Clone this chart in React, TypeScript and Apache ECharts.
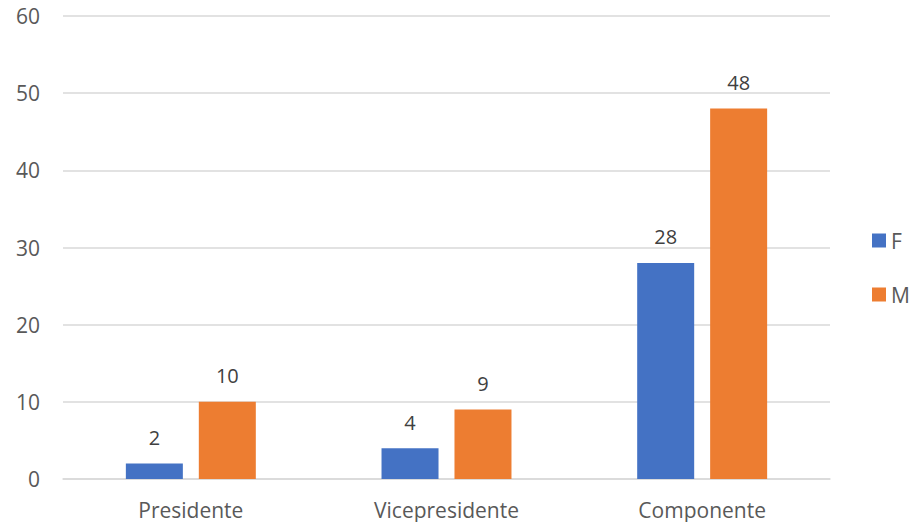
import React, { useEffect, useRef } from "react";
import * as echarts from "echarts";

const categories = ["Presidente", "Vicepresidente", "Componente"];
const seriesF = [2, 4, 28];
const seriesM = [10, 9, 48];
const yTicks = { min: 0, max: 60, interval: 10 };

export default function App() {
  const ref = useRef<HTMLDivElement>(null);
  useEffect(() => {
    if (!ref.current) return;
    const chart = echarts.init(ref.current, null, { renderer: "svg" });
    const font = "Open Sans, Liberation Sans, sans-serif";
    const label = {
      show: true,
      position: "top" as const,
      color: "#404040",
      fontSize: 20,
      fontFamily: font,
      distance: 16,
    };
    chart.setOption({
      animation: false,
      backgroundColor: "#ffffff",
      textStyle: { fontFamily: font },
      grid: { left: 63, right: 83, top: 16, bottom: 43, containLabel: false },
      legend: {
        orient: "vertical",
        left: 872,
        top: 230,
        padding: 0,
        itemWidth: 14,
        itemHeight: 14,
        itemGap: 33,
        icon: "rect",
        textStyle: { color: "#595959", fontSize: 21, fontFamily: font },
        data: ["F", "M"],
      },
      xAxis: {
        type: "category",
        data: categories,
        axisLine: { show: true, lineStyle: { color: "#d9d9d9", width: 1.5 } },
        axisTick: { show: false },
        axisLabel: { color: "#595959", fontSize: 21, fontFamily: font, margin: 20 },
      },
      yAxis: {
        type: "value",
        min: yTicks.min,
        max: yTicks.max,
        interval: yTicks.interval,
        axisLine: { show: false },
        axisTick: { show: false },
        splitLine: { lineStyle: { color: "#d9d9d9", width: 1.5 } },
        axisLabel: { color: "#595959", fontSize: 21, fontFamily: font, margin: 23 },
      },
      series: [
        {
          name: "F",
          type: "bar",
          data: seriesF,
          barWidth: 57,
          barGap: "28%",
          itemStyle: { color: "#4472C4" },
          label,
        },
        {
          name: "M",
          type: "bar",
          data: seriesM,
          barWidth: 57,
          barGap: "28%",
          itemStyle: { color: "#ED7D31" },
          label,
        },
      ],
    });
    return () => chart.dispose();
  }, []);
  return (
    <div
      ref={ref}
      style={{ position: "fixed", left: 0, top: 0, width: 913, height: 522 }}
    />
  );
}
